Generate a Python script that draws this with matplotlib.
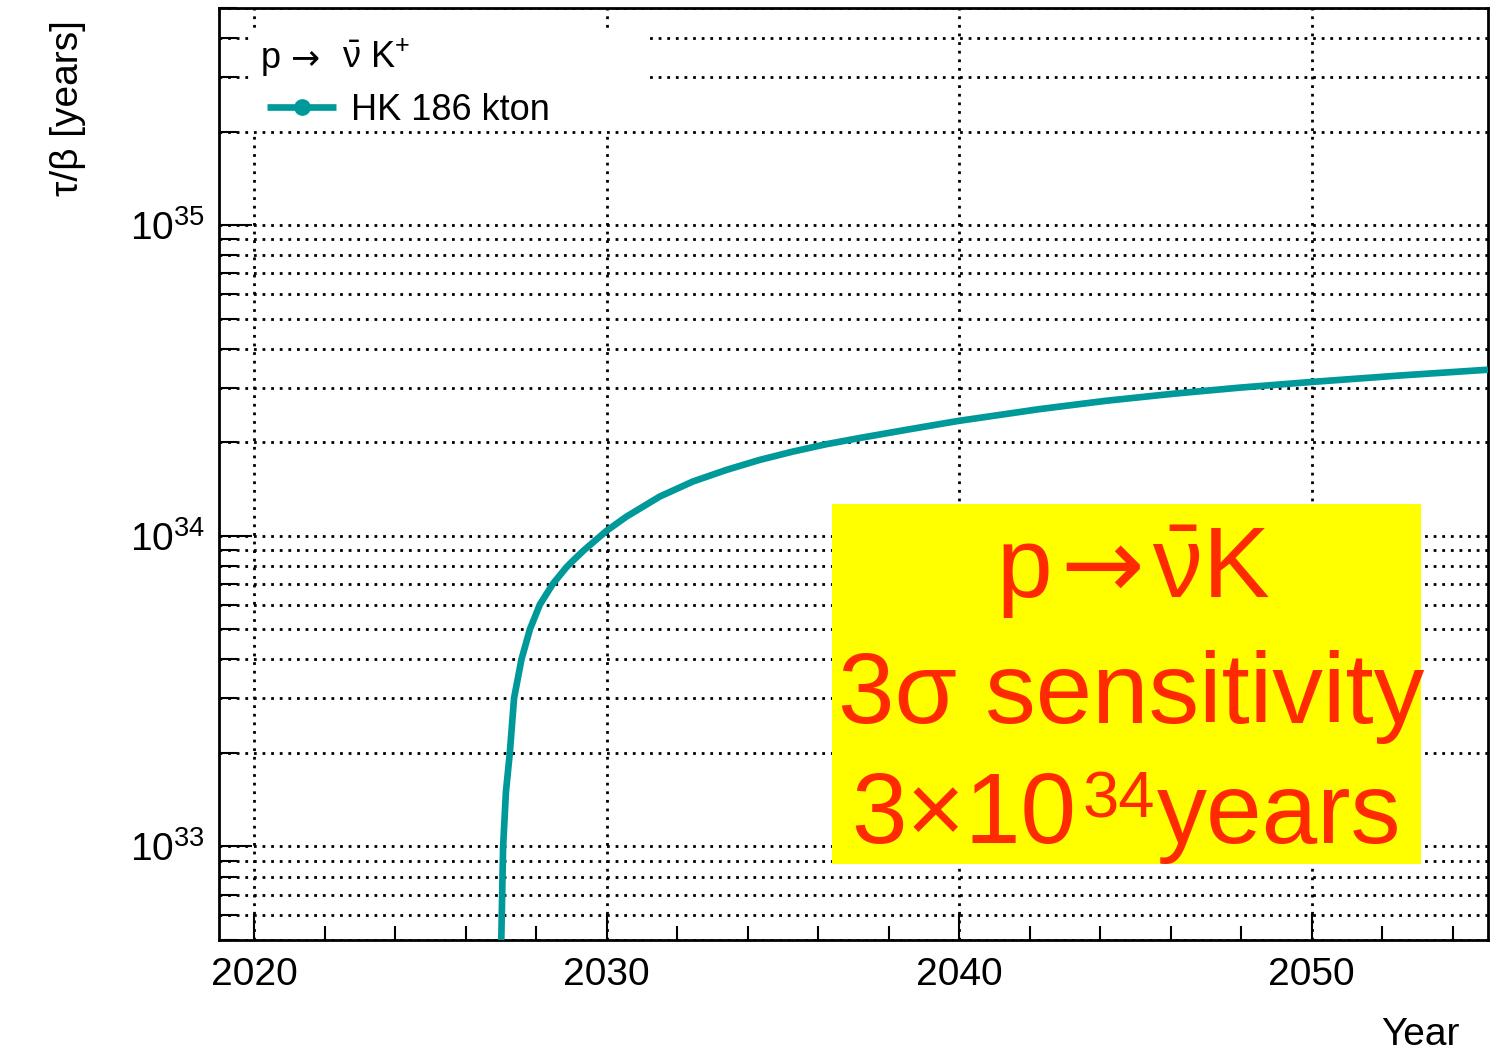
import matplotlib
matplotlib.use("Agg")
import matplotlib.pyplot as plt
from matplotlib.ticker import FixedLocator, LogLocator, NullFormatter, MultipleLocator
from matplotlib.lines import Line2D
from matplotlib.patches import Rectangle
from matplotlib.offsetbox import TextArea, HPacker, AnnotationBbox

plt.rcParams["font.family"] = ["Liberation Sans", "DejaVu Sans"]
plt.rcParams["mathtext.fontset"] = "custom"
plt.rcParams["mathtext.rm"] = "Liberation Sans"
plt.rcParams["mathtext.it"] = "Liberation Sans:italic"
plt.rcParams["mathtext.bf"] = "Liberation Sans:bold"
plt.rcParams["mathtext.default"] = "regular"

# 3 sigma discovery sensitivity for p -> nubar K+ versus calendar year
year = [2027.00, 2027.06, 2027.14, 2027.25, 2027.37, 2027.58, 2027.82,
        2028.10, 2028.47, 2028.86, 2029.09, 2029.35, 2029.99, 2030.56,
        2031.50, 2032.44, 2033.39, 2034.33, 2035.28, 2036.22, 2037.17,
        2038.49, 2039.95, 2042.27, 2044.16, 2046.04, 2047.93, 2050.00,
        2052.50, 2055.00]
lifetime = [4.5e32, 1.0e33, 1.5e33, 2.0e33, 3.0e33, 4.0e33, 5.0e33,
            6.0e33, 7.0e33, 7.93e33, 8.42e33, 8.98e33, 1.037e34, 1.153e34,
            1.337e34, 1.495e34, 1.629e34, 1.754e34, 1.867e34, 1.971e34,
            2.064e34, 2.193e34, 2.341e34, 2.557e34, 2.720e34, 2.864e34,
            2.997e34, 3.128e34, 3.281e34, 3.425e34]

x_ticks = [2020, 2030, 2040, 2050]
x_tick_labels = ["2020", "2030", "2040", "2050"]
y_ticks = [1e33, 1e34, 1e35]
y_tick_labels = [r"$10^{33}$", r"$10^{34}$", r"$10^{35}$"]

series_label = "HK 186 kton"
x_title = "Year"
y_title = "τ/β [years]"

teal = "#009999"
red = "#ff2a00"
yellow = "#ffff00"

W, H = 1512, 1056
AX_L, AX_R, AX_T, AX_B = 219, 1488, 8, 940


def ax_xy(px, py):
    """Pixel position inside the frame -> axes fraction."""
    return (px - AX_L) / (AX_R - AX_L), (AX_B - py) / (AX_B - AX_T)


fig = plt.figure(figsize=(W / 100, H / 100), dpi=100)
ax = fig.add_axes([AX_L / W, 1 - AX_B / H, (AX_R - AX_L) / W, (AX_B - AX_T) / H])

ax.set_yscale("log")
ax.set_xlim(2019, 2055)
ax.set_ylim(5e32, 5e35)

ax.plot(year, lifetime, color=teal, lw=4.8, zorder=4,
        solid_capstyle="butt", solid_joinstyle="round")

# axes, ticks, grid
for s in ax.spines.values():
    s.set_linewidth(2.0)
ax.xaxis.set_major_locator(FixedLocator(x_ticks))
ax.set_xticklabels(x_tick_labels)
ax.xaxis.set_minor_locator(MultipleLocator(2))
ax.yaxis.set_major_locator(FixedLocator(y_ticks))
ax.set_yticklabels(y_tick_labels)
ax.yaxis.set_minor_locator(LogLocator(base=10, subs=range(2, 10)))
ax.yaxis.set_minor_formatter(NullFormatter())

ax.tick_params(axis="both", which="both", direction="in", width=1.5,
               labelsize=28, top=False, right=False)
ax.tick_params(axis="x", which="major", length=19, pad=12)
ax.tick_params(axis="x", which="minor", length=10)
ax.tick_params(axis="y", which="major", length=24, pad=10)
ax.tick_params(axis="y", which="minor", length=13)

grid_style = dict(color="black", lw=2.0, linestyle=(0, (1.0, 2.1)))
ax.grid(True, which="major", axis="x", **grid_style)
ax.grid(True, which="both", axis="y", **grid_style)

# legend block
x0, y0 = ax_xy(252, 131)
x1, y1 = ax_xy(645, 31)
ax.add_patch(Rectangle((x0, y0), x1 - x0, y1 - y0, transform=ax.transAxes,
                       facecolor="white", edgecolor="none", zorder=3))
ax.text(*ax_xy(261, 68), "p", transform=ax.transAxes, fontsize=26,
        ha="left", va="baseline", zorder=5)
ax.text(*ax_xy(290, 68), "→", transform=ax.transAxes, fontsize=25,
        family="DejaVu Sans", ha="left", va="baseline", zorder=5)
ax.text(*ax_xy(342, 68), r"$\bar{\nu}$ K$^{+}$", transform=ax.transAxes,
        fontsize=26, ha="left", va="baseline", zorder=5)
hx0, hy = ax_xy(267, 107)
hx1, _ = ax_xy(336, 107)
ax.add_line(Line2D([hx0, hx1], [hy, hy], transform=ax.transAxes,
                   color=teal, lw=4.8, solid_capstyle="butt", zorder=5))
ax.add_line(Line2D([(hx0 + hx1) / 2], [hy], transform=ax.transAxes,
                   color=teal, marker="o", markersize=11, lw=0, zorder=5))
ax.text(*ax_xy(351, 120), series_label, transform=ax.transAxes,
        fontsize=26, ha="left", va="baseline", zorder=5)

# highlighted sensitivity note
bx0, by0 = ax_xy(832, 864)
bx1, by1 = ax_xy(1421, 504)
ax.add_patch(Rectangle((bx0, by0), bx1 - bx0, by1 - by0, transform=ax.transAxes,
                       facecolor=yellow, edgecolor="none", zorder=6))
big = dict(fontsize=72, color=red)
row = HPacker(children=[TextArea("p", textprops=big),
                        TextArea("→", textprops=dict(big, family="DejaVu Sans")),
                        TextArea(r"$\bar{\nu}$K", textprops=big)],
              align="baseline", pad=0, sep=6)
ab = AnnotationBbox(row, ax_xy(1133, 570), xycoords="axes fraction",
                    frameon=False, box_alignment=(0.5, 0.5), zorder=7)
ax.add_artist(ab)
ax.text(*ax_xy(1131, 723), "3σ sensitivity", transform=ax.transAxes,
        ha="center", va="baseline", zorder=7, fontsize=73, color=red)
ax.text(*ax_xy(851, 843), "3×10", transform=ax.transAxes,
        ha="left", va="baseline", zorder=7, **big)
ax.text(*ax_xy(1083, 818), "34", transform=ax.transAxes,
        ha="left", va="baseline", zorder=7, fontsize=47, color=red)
ax.text(*ax_xy(1157, 843), "years", transform=ax.transAxes,
        ha="left", va="baseline", zorder=7, **big)

# axis titles
fig.text(1460 / W, 1 - 1045 / H, x_title, fontsize=28, ha="right", va="baseline")
fig.text(68 / W, 1 - 20 / H, y_title, fontsize=28, rotation=90,
         ha="center", va="top")

fig.savefig("out.png", dpi=100)
